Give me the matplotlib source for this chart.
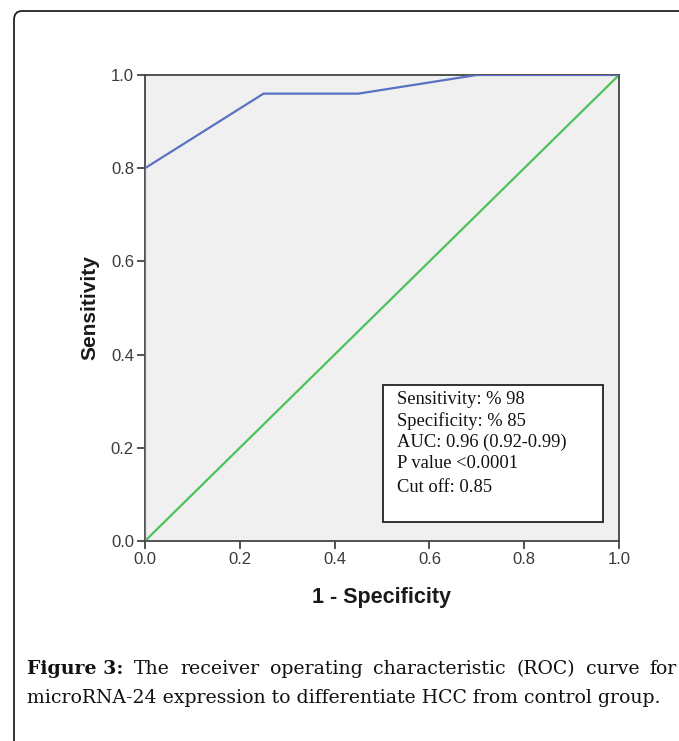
import matplotlib
matplotlib.use("Agg")
import matplotlib.pyplot as plt
from matplotlib.patches import FancyBboxPatch, Rectangle

# ROC curve points (1 - specificity, sensitivity)
fpr = [0.0, 0.0, 0.25, 0.45, 0.70, 1.0]
tpr = [0.0, 0.80, 0.96, 0.96, 1.0, 1.0]
ref_line = [0.0, 1.0]
ticks = [0.0, 0.2, 0.4, 0.6, 0.8, 1.0]
tick_labels = ["0.0", "0.2", "0.4", "0.6", "0.8", "1.0"]
stats_lines = ["Sensitivity: % 98", "Specificity: % 85", "AUC: 0.96 (0.92-0.99)",
               "P value <0.0001", "Cut off: 0.85"]
caption_bold = "Figure 3:"
caption_line1 = "The receiver operating characteristic (ROC) curve for"
caption_line2 = "microRNA-24 expression to differentiate HCC from control group."

W, H = 679, 741
fig = plt.figure(figsize=(W / 100, H / 100), dpi=100)
fig.patch.set_facecolor("white")

def fx(px):
    return px / W

def fy(py):
    return 1 - py / H

# page frame, rounded corner top-left, runs off the right and bottom edges
frame = FancyBboxPatch((fx(14), fy(760)), fx(700), fy(11) - fy(760),
                       boxstyle="round,pad=0,rounding_size=0.012",
                       transform=fig.transFigure, fill=False,
                       edgecolor="#222222", linewidth=1.3, clip_on=False)
fig.patches.append(frame)

# axes
ax = fig.add_axes([fx(145), fy(541), fx(619) - fx(145), fy(75) - fy(541)])
ax.set_facecolor("#F0F0F0")
ax.plot(ref_line, ref_line, color="#4CC35A", lw=1.6, solid_capstyle="butt", zorder=2)
ax.plot(fpr, tpr, color="#5A72C4", lw=1.6, zorder=3)
ax.set_xlim(0, 1)
ax.set_ylim(0, 1)
ax.set_xticks(ticks)
ax.set_xticklabels(tick_labels)
ax.set_yticks(ticks)
ax.set_yticklabels(tick_labels)
for s in ax.spines.values():
    s.set_color("#444444")
    s.set_linewidth(1.3)
ax.tick_params(direction="out", length=6, width=1.3, color="#444444",
               labelcolor="#3a3a3a", labelsize=12, pad=2)
for lab in ax.get_xticklabels() + ax.get_yticklabels():
    lab.set_family("Liberation Sans")
ax.set_xlabel("1 - Specificity", fontsize=15.5, fontweight="bold",
              family="Liberation Sans", color="#1a1a1a", labelpad=14)
ax.set_ylabel("Sensitivity", fontsize=15, fontweight="bold",
              family="Liberation Sans", color="#1a1a1a", labelpad=8)

# statistics box
box_x0 = (383 - 145) / 474
box_x1 = (603 - 145) / 474
box_y1 = (541 - 385) / 466
box_y0 = (541 - 522) / 466
ax.add_patch(Rectangle((box_x0, box_y0), box_x1 - box_x0, box_y1 - box_y0,
                       facecolor="white", edgecolor="#222222", lw=1.3, zorder=4))
line_y = [400, 421, 442, 464, 488]
for txt, py in zip(stats_lines, line_y):
    fig.text(fx(397), fy(py), txt, family="Liberation Serif", fontsize=13.3,
             color="#111111", va="center", ha="left", zorder=5)

# caption, first line justified between left and right margins
fig.canvas.draw()
renderer = fig.canvas.get_renderer()
left_px, right_px = 27, 677
words = [(caption_bold, "bold")] + [(w, "normal") for w in caption_line1.split()]
cap_size = 13.6
items = []
total = 0
for w, weight in words:
    t = fig.text(0, 0, w, family="DejaVu Serif", fontsize=cap_size,
                 fontweight=weight, color="#111111", va="baseline")
    width = t.get_window_extent(renderer).width
    items.append((t, width))
    total += width
gap = (right_px - left_px - total) / (len(items) - 1)
x = left_px
for t, width in items:
    t.set_position((fx(x), fy(674)))
    x += width + gap
fig.text(fx(left_px), fy(703), caption_line2, family="DejaVu Serif",
         fontsize=cap_size, color="#111111", va="baseline")

fig.savefig("out.png", dpi=100)
